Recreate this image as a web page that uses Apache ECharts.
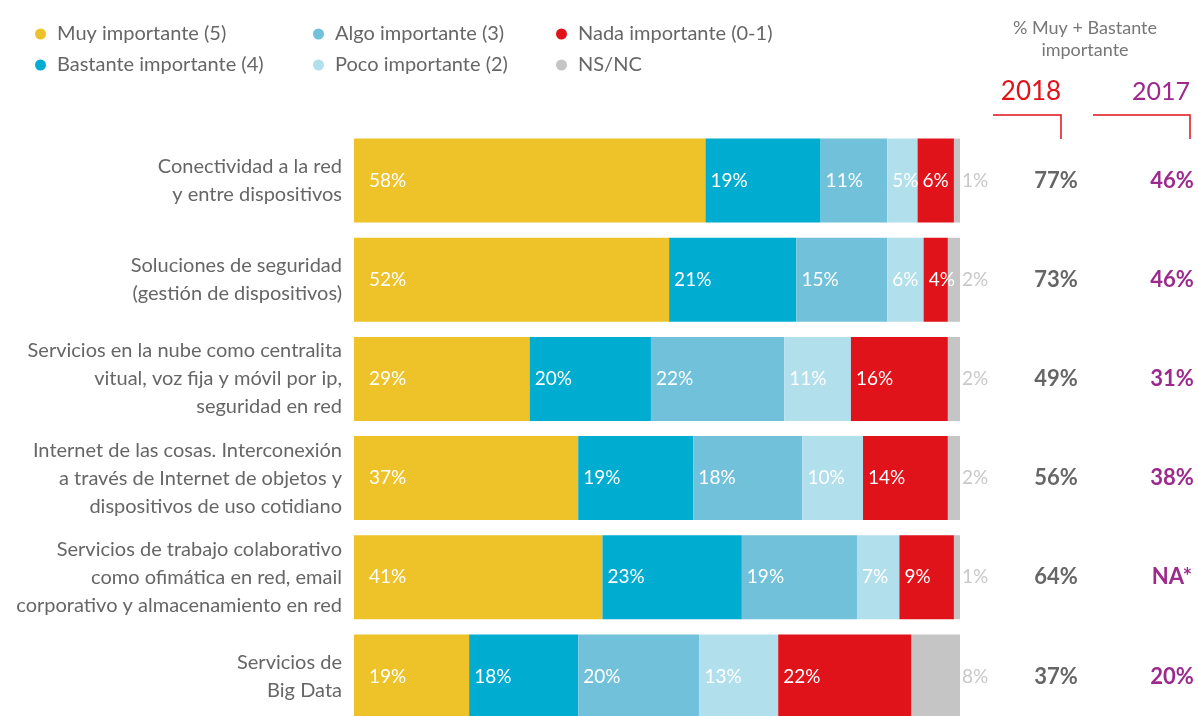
<!DOCTYPE html>
<html lang="es">
<head>
<meta charset="UTF-8">
<title>Importancia de servicios</title>
<style>
  html, body { margin: 0; padding: 0; background: #fff; overflow: hidden; }
  /* el lienzo es algo más alto que la ventana: la última barra queda cortada abajo */
  #chart { width: 1198px; height: 730px; }
</style>
<script src="https://cdn.jsdelivr.net/npm/echarts@6/dist/echarts.min.js"></script>
</head>
<body>
<div id="chart"></div>
<script>
// categorias (de arriba a abajo)
var categories = [
  'Conectividad a la red\ny entre dispositivos',
  'Soluciones de seguridad\n(gestión de dispositivos)',
  'Servicios en la nube como centralita\nvitual, voz fija y móvil por ip,\nseguridad en red',
  'Internet de las cosas. Interconexión\na través de Internet de objetos y\ndispositivos de uso cotidiano',
  'Servicios de trabajo colaborativo\ncomo ofimática en red, email\ncorporativo y almacenamiento en red',
  'Servicios de\nBig Data'
];

var seriesNames = ['Muy importante (5)', 'Bastante importante (4)', 'Algo importante (3)',
  'Poco importante (2)', 'Nada importante (0-1)', 'NS/NC'];

var muy = [58, 52, 29, 37, 41, 19];
var bastante = [19, 21, 20, 19, 23, 18];
var algo = [11, 15, 22, 18, 19, 20];
var poco = [5, 6, 11, 10, 7, 13];
var nada = [6, 4, 16, 14, 9, 22];
var nsnc = [1, 2, 2, 2, 1, 8];

// % Muy + Bastante importante
var total2018 = [77, 73, 49, 56, 64, 37];
var total2017 = [46, 46, 31, 38, null, 20];

var colors = ['#EEC229', '#00ACD0', '#72C1DA', '#B2DFEC', '#E0121A', '#C5C5C5'];
var FONT = 'Lato';

var myChart = echarts.init(document.getElementById('chart'));

var values = [muy, bastante, algo, poco, nada, nsnc];
var series = values.map(function (d, i) {
  var last = i === values.length - 1;
  return {
    name: seriesNames[i],
    type: 'bar',
    stack: 'total',
    barWidth: 84,
    data: d,
    itemStyle: { color: colors[i] },
    label: {
      show: true,
      position: last ? 'right' : 'insideLeft',
      distance: last ? 2 : (i === 0 ? 15 : 5),
      formatter: '{c}%',
      color: last ? '#c8c8c8' : '#fff',
      fontSize: 19,
      fontFamily: FONT
    },
    emphasis: { disabled: true }
  };
});

function legendBlock(names, left) {
  return {
    orient: 'vertical',
    left: left,
    top: 19,
    itemGap: 11,
    icon: 'circle',
    itemWidth: 11,
    itemHeight: 11,
    data: names,
    textStyle: { color: '#666', fontSize: 20, fontFamily: FONT, padding: [0, 0, 0, 6] }
  };
}

option = {
  animation: false,
  color: colors,
  legend: [
    legendBlock([seriesNames[0], seriesNames[1]], 30),
    legendBlock([seriesNames[2], seriesNames[3]], 308),
    legendBlock([seriesNames[4], seriesNames[5]], 551)
  ],
  grid: { left: 354, top: 131, width: 606, height: 595, containLabel: false },
  xAxis: {
    type: 'value', min: 0, max: 100, show: false
  },
  yAxis: [{
    type: 'category',
    inverse: true,
    data: categories,
    axisLine: { show: false },
    axisTick: { show: false },
    axisLabel: {
      margin: 12,
      color: '#666',
      fontSize: 20,
      lineHeight: 28,
      fontFamily: FONT,
      align: 'right'
    }
  }, {
    type: 'category',
    inverse: true,
    position: 'right',
    data: categories,
    axisLine: { show: false },
    axisTick: { show: false },
    axisLabel: {
      margin: 96,
      align: 'center',
      color: '#666',
      fontSize: 22,
      fontWeight: 'bold',
      fontFamily: FONT,
      formatter: function (v, i) { return total2018[i] + '%'; }
    }
  }, {
    type: 'category',
    inverse: true,
    position: 'right',
    data: categories,
    axisLine: { show: false },
    axisTick: { show: false },
    axisLabel: {
      margin: 212,
      align: 'center',
      color: '#9C2A8C',
      fontSize: 22,
      fontWeight: 'bold',
      fontFamily: FONT,
      formatter: function (v, i) { return total2017[i] == null ? 'NA*' : total2017[i] + '%'; }
    }
  }],
  graphic: [
    { type: 'text', x: 1085, y: 17, style: { text: '% Muy + Bastante\nimportante', fill: '#777', fontSize: 18, lineHeight: 22, fontFamily: FONT, align: 'center' } },
    { type: 'text', x: 1031, y: 79, style: { text: '2018', fill: '#E0121A', fontSize: 26, fontFamily: FONT, align: 'center' } },
    { type: 'text', x: 1161, y: 79, style: { text: '2017', fill: '#9C2A8C', fontSize: 25, fontFamily: FONT, align: 'center' } },
    { type: 'polyline', shape: { points: [[993, 115], [1061, 115], [1061, 139]] }, style: { stroke: '#E0121A', lineWidth: 1.5, fill: null } },
    { type: 'polyline', shape: { points: [[1093, 115], [1190, 115], [1190, 139]] }, style: { stroke: '#E0121A', lineWidth: 1.5, fill: null } }
  ],
  series: series
};

myChart.setOption(option);
</script>
</body>
</html>
